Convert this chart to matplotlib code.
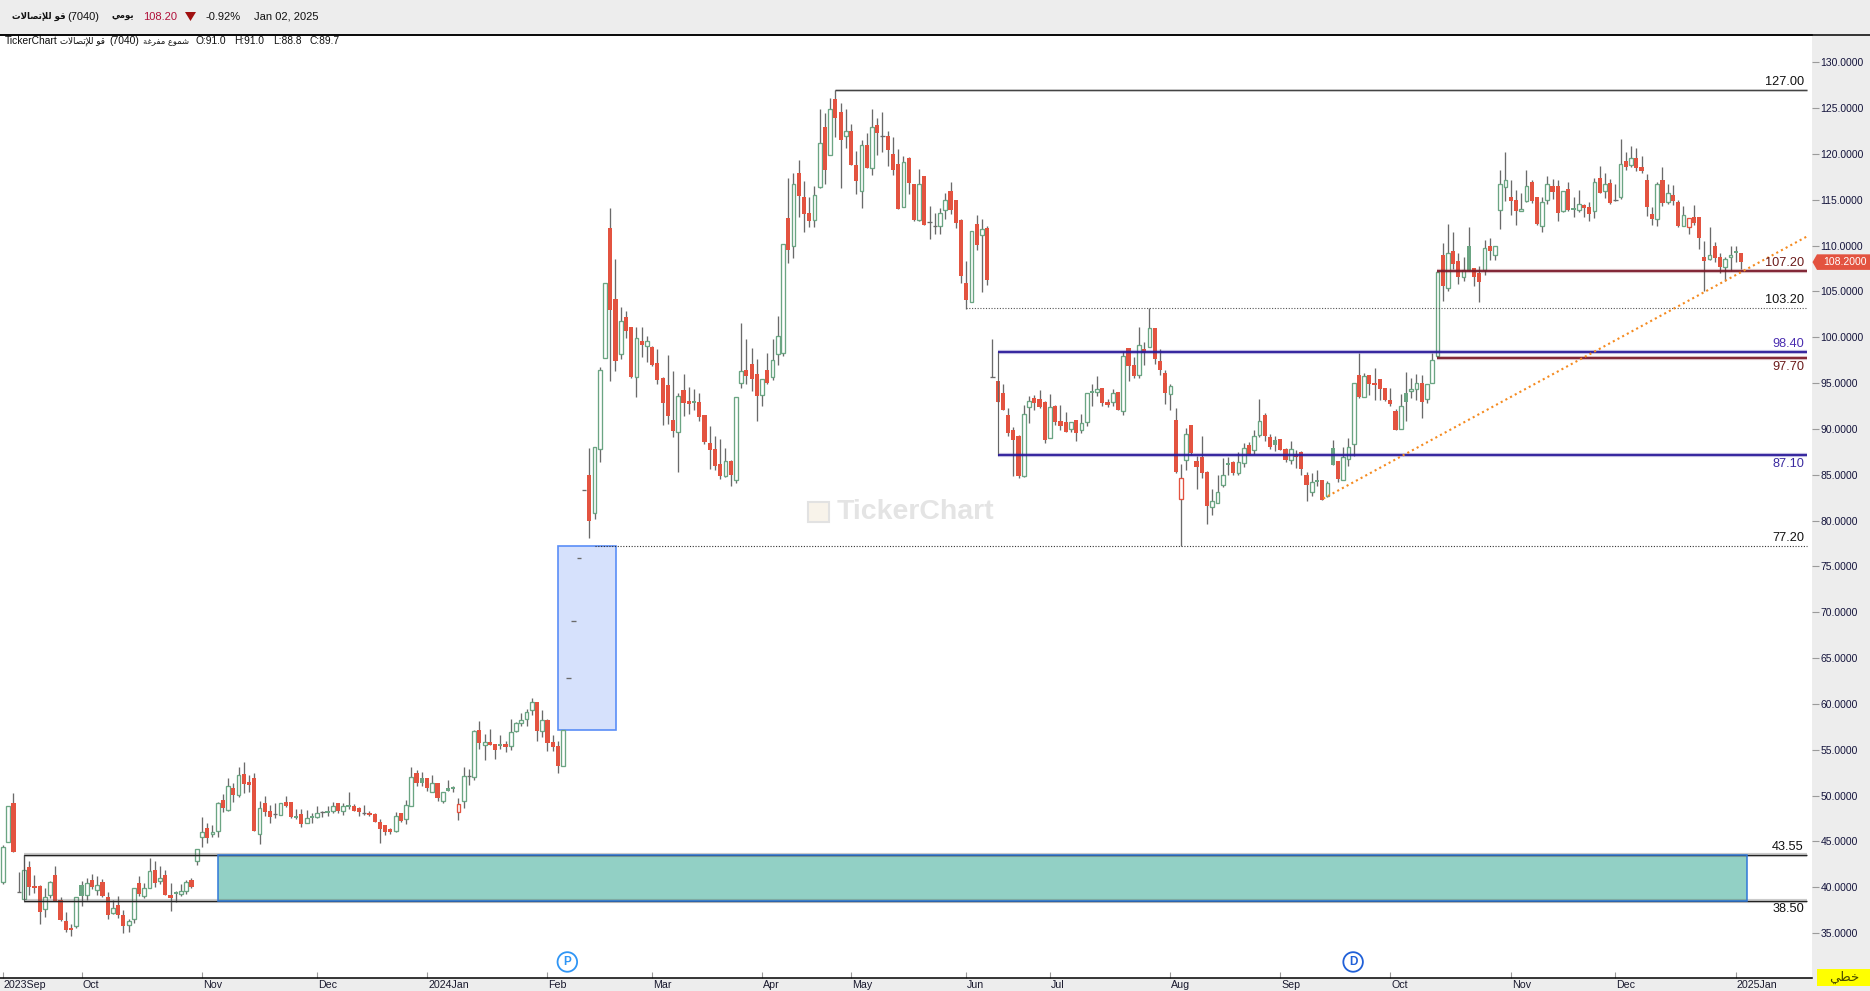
import matplotlib
matplotlib.use("Agg")
import matplotlib.pyplot as plt
from matplotlib.patches import Polygon, Rectangle
from matplotlib.lines import Line2D

plt.rcParams['font.family'] = ['Liberation Sans', 'DejaVu Sans']

W, H = 1870, 991

# each row: open, high, low, close
candles_sep_oct_2023 = [
 (40.6,44.6,40.4,44.35),(44.97,48.85,44.95,48.83),(49.19,50.25,43.88,43.88),(39.5,41.63,39.5,39.5),
 (38.75,43.5,38.75,41.85),(42.17,42.86,39.15,40.06),(40.14,41.34,39.4,39.95),(40.14,40.25,36.0,37.34),
 (37.66,39.9,36.8,38.9),(39.2,40.65,38.86,40.54),(41.3,42.3,38.5,38.5),(38.57,38.94,36.3,36.43),
 (36.3,37.3,35.1,35.34),(35.55,36.0,34.7,35.34),(35.8,38.9,35.6,38.9),(40.2,40.65,38.0,39.0),
 (39.2,41.0,38.6,40.43),(40.75,41.45,39.8,40.06),(39.74,41.2,39.15,40.2),(40.57,40.9,38.94,39.05),
 (38.94,39.5,36.54,36.97),(37.23,38.6,37.1,37.7),(38.03,39.05,36.65,36.97),(36.97,37.5,35.0,35.8),
 (35.92,36.5,35.1,36.28),(36.5,39.88,36.1,39.88),(40.43,41.23,39.05,39.26),(39.08,40.46,38.86,39.88),
 (39.88,43.15,39.88,41.74),(41.85,42.86,40.06,40.5),(40.72,42.3,40.35,40.97),(41.3,41.88,39.15,39.2),
 (39.15,40.46,37.45,38.86),(39.3,39.55,38.43,39.5),(39.3,40.35,39.05,39.63),(39.63,40.75,39.3,40.54),
 (40.75,40.97,39.95,40.06),(42.9,44.14,42.43,44.14),
]
candles_nov_dec_2023 = [
 (45.52,47.66,44.43,45.99),(46.43,47.0,44.83,45.41),(45.77,46.79,45.52,45.99),(46.17,49.26,45.52,49.15),
 (49.52,50.17,48.2,48.65),(48.46,51.92,48.35,51.0),(50.82,51.37,49.26,50.06),(50.1,53.12,49.88,52.2),
 (52.35,53.66,50.28,51.3),(51.48,52.24,50.39,51.15),(51.92,52.46,46.13,46.13),(45.84,49.41,44.72,48.6),
 (49.19,49.95,47.77,48.2),(48.32,48.97,47.0,47.66),(47.95,49.19,47.55,47.95),(47.92,49.15,47.92,49.15),
 (49.3,49.95,48.75,48.86),(49.3,49.3,47.55,47.66),(47.77,48.53,47.44,47.55),(47.99,48.53,46.57,46.9),
 (47.04,48.42,47.0,47.52),(47.77,48.1,47.0,47.55),(47.7,48.86,47.55,48.06),(48.2,48.32,47.66,48.2),
 (48.32,48.86,47.77,48.13),(48.35,49.3,48.1,48.86),(49.19,49.19,48.1,48.32),(48.35,49.19,47.88,48.86),
 (48.97,50.39,48.53,48.75),(48.86,49.08,48.32,48.32),(48.64,48.75,47.77,48.2),(48.06,48.97,47.88,48.06),
 (48.1,48.32,47.77,47.88),(47.99,48.06,47.12,47.12),(47.12,47.44,44.82,46.35),(46.79,46.79,45.7,46.02),
 (46.35,46.46,45.8,46.02),(46.17,48.2,46.02,47.77),(48.1,48.1,47.12,47.22),(47.48,49.52,46.9,48.97),
 (48.9,53.12,48.9,52.02),(52.46,52.79,51.04,51.37),(51.92,52.57,51.04,51.37),
]
candles_jan_feb_2024 = [
 (51.92,51.92,50.5,50.82),(50.42,52.24,50.39,51.33),(51.37,51.37,49.41,49.73),(49.45,50.36,49.19,50.36),
 (50.79,51.7,50.54,50.54),(50.9,51.05,50.43,50.76),(48.25,49.74,47.34,49.05),(49.45,53.08,48.65,52.1),
 (52.17,52.87,51.16,52.17),(52.07,57.16,51.7,57.01),(57.16,58.14,55.08,55.77),(55.48,56.72,53.88,55.81),
 (55.85,57.27,55.52,55.52),(55.63,55.63,53.99,54.97),(55.63,56.61,55.08,55.45),(55.63,55.96,54.76,55.3),
 (55.45,58.36,54.97,56.9),(57.08,58.03,56.94,57.88),(57.96,59.01,57.59,58.21),(58.32,59.45,57.59,59.08),
 (59.3,60.65,58.79,60.25),(60.21,60.21,55.96,57.05),(57.08,59.34,56.39,58.21),(58.25,58.36,54.87,55.74),
 (55.85,56.61,54.87,55.34),(55.41,55.96,52.47,53.23),(53.27,57.2,53.27,57.12),
 (62.79,62.79,62.79,62.79),(69.0,69.0,69.0,69.0),(75.88,75.88,75.88,75.88),(83.3,83.3,83.3,83.3),
 (84.98,87.96,78.11,79.96),(80.87,87.99,80.14,87.99),(87.85,96.8,86.4,96.43),(97.78,105.89,97.78,105.89),
 (111.92,114.1,95.27,103.0),(104.18,108.54,96.32,97.45),(98.21,103.3,97.63,101.74),(102.18,102.87,99.96,100.72),
 (101.12,101.12,95.6,95.67),(95.7,101.12,93.52,99.89),(99.56,101.12,97.89,99.16),(99.01,100.14,97.34,99.56),
 (98.94,99.05,96.9,96.98),(97.16,98.69,94.9,95.38),(95.56,95.63,90.43,92.87),(94.76,98.07,90.54,91.45),
 (90.94,96.32,89.16,89.81),(89.7,93.89,85.34,93.56),
]
candles_mar_may_2024 = [
 (94.25,95.96,91.41,92.87),(93.01,94.54,91.67,92.76),(93.01,94.36,92.07,92.87),(92.9,93.92,90.9,91.34),
 (91.52,91.52,88.36,88.61),(88.43,90.32,85.67,87.74),(87.81,89.23,85.56,85.99),(86.18,88.9,84.58,84.9),
 (84.9,87.92,84.72,86.47),(86.5,86.61,83.81,85.01),(84.4,93.52,84.07,93.52),(94.98,101.52,94.5,96.29),
 (96.4,99.81,94.94,95.81),(97.05,98.83,94.18,95.49),(95.96,97.6,90.9,93.63),(93.67,95.41,92.54,95.41),
 (96.4,98.29,94.94,95.01),(95.7,99.81,95.34,97.49),(98.21,102.32,96.98,100.11),(98.32,110.14,98.0,110.14),
 (112.98,117.34,108.14,109.56),(109.92,117.9,108.69,116.69),(117.92,119.34,113.16,115.45),(115.3,117.05,111.52,113.49),
 (113.56,115.27,112.07,112.69),(112.83,116.5,112.07,115.49),(116.36,124.9,116.32,121.16),(122.94,124.47,116.76,118.29),
 (119.85,126.1,119.85,124.87),(125.99,126.98,121.89,123.96),(124.58,125.56,116.32,121.56),(121.92,124.9,120.65,122.51),
 (122.51,123.27,118.83,118.83),(118.8,120.32,115.63,117.09),(115.92,121.52,114.14,120.94),(120.98,122.29,118.47,118.47),
 (118.5,124.9,117.7,122.9),(123.16,123.92,119.89,122.29),(121.92,124.58,120.25,121.92),(121.96,122.51,118.69,120.43),
 (120.0,121.85,117.7,118.25),(118.9,120.54,114.0,114.0),(114.25,119.78,114.25,119.09),(119.56,119.63,115.63,116.85),
 (116.72,116.72,112.7,112.8),(112.8,118.36,112.69,116.69),(117.6,117.6,112.25,112.25),(112.54,114.32,110.72,112.54),
 (112.14,113.56,111.27,112.14),(112.1,114.1,111.27,113.52),(113.92,115.74,112.9,114.94),(115.96,116.94,113.45,113.89),
 (114.98,114.98,111.92,112.47),(112.8,112.9,105.92,106.69),(105.92,108.32,103.09,104.07),(103.89,111.56,103.89,111.56),
 (112.36,113.3,109.52,110.07),(111.2,112.9,104.94,111.78),(111.92,112.14,105.7,106.25),
]
candles_jun_aug_2024 = [
 (95.7,99.81,95.7,95.7),(95.23,95.23,92.98,92.98),(93.92,94.9,92.1,92.1),(91.52,92.29,89.23,89.56),
 (89.89,90.21,84.87,88.83),(89.23,89.34,84.69,84.87),(84.9,92.58,84.76,91.6),(92.36,93.6,90.65,93.01),
 (93.38,93.7,92.07,92.87),(93.27,94.25,92.29,92.4),(92.94,93.05,88.47,88.83),(89.05,93.81,89.05,92.36),
 (92.51,92.61,90.43,90.76),(90.87,92.61,89.89,90.32),(90.76,91.85,89.67,89.67),(90.03,90.72,89.67,90.72),
 (90.98,90.98,88.69,89.56),(89.92,91.63,89.56,90.61),(90.8,93.96,90.32,93.96),(94.14,94.9,92.5,93.92),
 (94.07,95.78,93.6,94.32),(94.47,94.47,92.5,92.83),(92.94,93.27,92.4,92.61),(92.9,94.36,92.54,93.89),
 (94.03,94.03,92.07,92.07),(92.0,98.5,91.52,97.92),(98.83,98.83,95.23,96.87),(96.98,97.85,95.56,95.78),
 (95.92,101.12,95.56,99.12),(98.72,99.49,96.98,98.29),(98.98,103.2,98.98,100.98),(101.01,101.01,97.09,97.63),
 (97.41,98.72,95.89,96.43),(96.1,96.43,92.72,93.92),(93.85,94.9,92.07,94.65),(90.98,92.29,85.2,85.3),
 (82.4,86.18,77.2,84.61),(86.65,90.1,85.52,89.41),(90.43,90.43,87.16,87.38),(86.5,87.05,83.45,85.85),
 (86.94,89.23,84.65,85.2),(85.3,85.41,79.63,81.6),(81.52,83.45,80.61,82.1),(81.96,84.98,81.96,83.09),
 (83.92,86.83,83.67,84.94),(86.29,86.94,84.98,86.1),(86.4,86.5,84.98,85.2),(85.23,87.49,84.98,86.4),
 (86.32,88.47,85.85,87.92),(88.25,88.6,87.27,87.27),(87.7,89.89,87.27,89.23),(89.34,93.27,89.12,90.83),
 (91.52,91.74,88.69,89.23),(89.12,89.45,87.8,88.03),(88.8,89.23,87.6,88.25),(88.9,88.9,87.7,87.7),
]
candles_sep_oct_2024 = [
 (87.81,87.92,86.4,86.61),(86.65,88.69,86.18,87.78),(87.27,87.7,85.74,86.9),(87.49,87.6,84.98,85.63),
 (84.98,85.3,82.14,83.89),(83.16,85.16,82.69,84.18),(84.43,85.52,83.78,84.21),(84.43,84.43,82.25,82.25),
 (82.72,84.32,82.61,84.07),(87.92,88.8,86.07,86.07),(86.47,86.47,84.2,84.54),(84.47,88.03,84.47,86.94),
 (86.76,89.0,85.96,87.98),(88.4,94.98,87.05,94.98),(95.89,98.25,93.38,93.49),(93.52,96.1,93.52,95.74),
 (95.89,95.89,93.7,94.9),(95.0,96.65,93.16,94.8),(95.45,95.45,93.16,94.36),(94.47,94.47,93.05,93.16),
 (93.16,94.47,92.5,92.72),(91.96,92.18,89.89,89.89),(90.03,93.81,90.03,92.47),(93.92,96.2,90.87,92.94),
 (94.1,95.56,93.38,94.32),(94.4,95.98,93.16,95.0),(95.0,95.89,91.2,92.94),(93.3,94.87,92.83,94.87),
 (95.05,98.25,95.05,97.49),(98.01,107.2,97.9,107.14),(109.03,110.3,103.94,105.58),(105.4,112.38,105.03,109.21),
 (109.43,111.54,107.5,107.94),(108.34,109.21,105.8,106.56),(106.6,108.78,106.12,107.36),(110.0,112.0,107.25,107.25),
 (107.61,107.61,105.58,106.56),(107.03,107.83,103.9,106.01),(107.3,110.56,106.78,109.76),(110.0,110.78,108.41,109.36),
 (108.96,109.98,108.41,109.98),
]
candles_nov_2024_jan_2025 = [
 (113.87,118.2,111.76,116.74),(116.38,120.16,114.92,117.18),(115.32,117.2,113.29,114.85),(115.03,116.12,112.3,113.76),
 (113.8,115.76,113.8,114.01),(114.85,118.2,114.74,116.52),(116.99,117.2,114.7,114.92),(115.32,115.32,112.2,112.41),
 (112.12,115.32,111.54,114.78),(114.99,117.65,114.49,116.74),(116.52,117.32,115.14,115.9),(116.52,117.2,112.74,113.61),
 (113.8,115.98,113.72,115.98),(116.2,116.96,113.83,113.94),(114.12,115.25,113.07,113.87),(113.94,116.12,113.72,114.56),
 (114.38,114.49,113.07,114.05),(114.16,114.81,112.74,113.5),(113.76,117.43,112.96,116.96),(117.43,118.74,115.69,115.69),
 (115.94,117.94,115.21,116.74),(116.78,117.32,114.49,114.7),(115.03,116.67,114.92,115.03),(115.25,121.58,115.1,118.92),
 (119.18,120.16,118.3,118.63),(118.78,120.92,118.63,119.58),(119.58,120.6,118.09,118.52),(118.63,119.83,117.87,118.09),
 (117.21,117.76,113.18,114.16),(113.4,114.16,112.3,112.85),(112.89,116.99,112.09,116.74),(117.21,118.63,114.27,114.7),
 (114.74,116.67,114.49,115.76),(115.54,116.56,114.38,114.92),(114.81,115.03,111.98,112.09),(112.12,114.27,112.09,113.36),
 (112.05,113.03,111.32,113.03),(113.07,114.38,112.3,112.52),(113.07,113.07,109.58,110.78),(108.81,110.45,105.0,108.27),
 (108.49,112.0,108.38,108.99),(110.0,110.34,108.16,108.7),(108.81,109.14,107.03,107.72),(107.72,108.81,106.16,108.56),
 (108.74,110.0,107.18,108.99),(109.43,110.0,108.16,109.18),(109.21,109.21,107.5,108.16),
]
filled_green_days = [15,33,56,59,62,66,80,85,86,95,132,208,234,243,251,254,268,280,300,331]
hollow_red_days = [87,225,322]

tick_days = [0,15,38,60,81,104,124,145,162,184,200,223,244,265,288,308,331]
tick_labels = ['2023Sep','Oct','Nov','Dec','2024Jan','Feb','Mar','Apr','May','Jun','Jul','Aug','Sep','Oct','Nov','Dec','2025Jan']
price_ticks = list(range(35,131,5))

level_127, level_103, level_77 = 127.0, 103.2, 77.2
level_984, level_871 = 98.4, 87.1
level_1072, level_977 = 107.2, 97.7
zone_top, zone_bottom = 43.55, 38.5
box_top, box_bottom = 77.2, 57.15
trend_start, trend_end = 82.4, 111.0
last_price = 108.2

candles = (candles_sep_oct_2023 + candles_nov_dec_2023 + candles_jan_feb_2024 + candles_mar_may_2024
           + candles_jun_aug_2024 + candles_sep_oct_2024 + candles_nov_2024_jan_2025)

AR = {'ق':(0xFED5,1),'و':(0xFEED,0),'ل':(0xFEDD,1),'إ':(0xFE87,0),'ت':(0xFE95,1),'ص':(0xFEB9,1),'ا':(0xFE8D,0),
      'ي':(0xFEF1,1),'م':(0xFEE1,1),'ش':(0xFEB5,1),'ع':(0xFEC9,1),'ف':(0xFED1,1),'ر':(0xFEAD,0),'غ':(0xFECD,1),
      'ة':(0xFE93,0),'خ':(0xFEA5,1),'ط':(0xFEC1,1)}
def ar(s):
    out, i, prev = [], 0, False
    while i < len(s):
        ch = s[i]
        if ch not in AR:
            out.append(ch); prev = False; i += 1; continue
        if ch == 'ل' and i+1 < len(s) and s[i+1] in 'إا':
            base = 0xFEF9 if s[i+1] == 'إ' else 0xFEFB
            out.append(chr(base + (1 if prev else 0))); prev = False; i += 2; continue
        code, dual = AR[ch]
        nxt = i+1 < len(s) and s[i+1] in AR
        if dual and nxt:
            out.append(chr(code + (3 if prev else 2))); prev = True
        else:
            out.append(chr(code + (1 if prev else 0))); prev = False
        i += 1
    return ''.join(reversed(out))

PANEL = '#EDEDED'
RED = '#E35340'; GREEN = '#6BA583'; WICK = '#6A6A6A'
fig = plt.figure(figsize=(W/100, H/100), dpi=100, facecolor=PANEL)
ax = fig.add_axes([0, 1-978/H, 1812/W, (978-35)/H], facecolor='white')
ax.set_xlim(-3/5.235, (1812-3)/5.235)
ax.set_ylim(30.09, 132.98)
for s in ['left','right']:
    ax.spines[s].set_visible(False)
for s in ['top','bottom']:
    ax.spines[s].set_color('black'); ax.spines[s].set_linewidth(1.1)
fig.add_artist(Line2D([0, 1], [1-35/H, 1-35/H], transform=fig.transFigure, color='black', lw=1.1))

# x axis
ax.set_xticks(tick_days)
ax.set_xticklabels([])
ax.tick_params(axis='x', direction='in', length=4.5, width=0.8, color='#9a9a9a')
for d, lab_txt in zip(tick_days, tick_labels):
    ax.annotate(lab_txt, (d, 0), xycoords=('data','axes fraction'), xytext=(1, -7), textcoords='offset pixels',
                ha='left', va='center', fontsize=7.7, color='#1a1a2e', annotation_clip=False)
# y axis
ax.yaxis.tick_right()
ax.set_yticks(price_ticks)
ax.set_yticklabels(['%.4f' % p for p in price_ticks], fontsize=7.5, color='#14143c')
ax.tick_params(axis='y', direction='out', length=5, width=0.8, color='#9a9a9a', pad=1.2)

# zones underneath candles
XR = 344.6
ax.add_patch(Rectangle((106.0, box_bottom), 11.1, box_top-box_bottom, fc='#D6E1FC', ec='#5A8EF7', lw=1.2, zorder=1))
ax.add_patch(Rectangle((41.0, zone_bottom), 292.1, zone_top-zone_bottom, fc='#92D0C5', ec='none', zorder=1))

for i, (o, h, l, c) in enumerate(candles):
    ax.vlines(i, l, h, color=WICK, lw=0.95, zorder=2)
    if o == c:
        ax.hlines(c, i-0.42, i+0.42, color=WICK, lw=0.95, zorder=3)
    elif i in filled_green_days:
        ax.add_patch(Rectangle((i-0.4, min(o,c)), 0.8, abs(o-c), fc=GREEN, ec='none', zorder=3))
    elif i in hollow_red_days:
        ax.add_patch(Rectangle((i-0.36, min(o,c)), 0.72, abs(o-c), fc='white', ec=RED, lw=0.95, zorder=3))
    elif c > o:
        ax.add_patch(Rectangle((i-0.36, o), 0.72, c-o, fc='white', ec=GREEN, lw=0.95, zorder=3))
    else:
        ax.add_patch(Rectangle((i-0.4, c), 0.8, o-c, fc=RED, ec='none', zorder=3))

def level(y, x0, color, lw=1.0, halo=None, hw=3.0, ls='-'):
    if halo:
        ax.plot([x0, XR], [y, y], color=halo, lw=hw, alpha=0.3, zorder=4, solid_capstyle='butt')
    ax.plot([x0, XR], [y, y], color=color, lw=lw, ls=ls, zorder=5, solid_capstyle='butt')

level(level_127, 159, '#444444', lw=0.9, halo='#555555', hw=1.8)
level(level_103, 184, '#555555', lw=0.8, ls=(0,(1,1.5)))
level(level_77, 113, '#333333', lw=0.8, ls=(0,(1,1.5)))
level(level_984, 190, '#2A1A9A', lw=1.3, halo='#2A1A9A')
level(level_871, 190, '#2A1A9A', lw=1.3, halo='#2A1A9A')
ax.plot([190,190], [level_871, level_984], color='#666666', lw=0.85, zorder=4)
level(level_1072, 274, '#7B1A2A', lw=1.3, halo='#7B1A2A')
level(level_977, 274, '#7B1A2A', lw=1.3, halo='#7B1A2A')
level(zone_top, 4, '#222222', lw=0.9, halo='#555555')
level(zone_bottom, 4, '#222222', lw=0.9, halo='#555555')
ax.plot([4,4], [zone_bottom, zone_top], color='#555555', lw=0.8, zorder=4)
ax.add_patch(Rectangle((41.0, zone_bottom), 292.1, zone_top-zone_bottom, fc='none', ec='#2F78D8', lw=1.1, zorder=6))
ax.plot([252.2, XR], [trend_start, trend_end], color='#F58A1F', lw=1.5, ls=(0,(1,1.55)), zorder=6)

def lab(y, txt, col, dy):
    ax.annotate(txt, (XR, y), xytext=(-3, dy), textcoords='offset pixels', ha='right', va='center',
                fontsize=9.2, color=col, zorder=7)
lab(level_127, '127.00', '#111111', 8)
lab(level_1072, '107.20', '#6B1A1A', 8)
lab(level_103, '103.20', '#111111', 8)
lab(level_984, '98.40', '#4A2DB0', 8)
lab(level_977, '97.70', '#6B1A1A', -9)
lab(level_871, '87.10', '#3A2AA0', -9)
lab(level_77, '77.20', '#111111', 8)
lab(zone_top, '43.55', '#111111', 8)
lab(zone_bottom, '38.50', '#111111', -8)

# P and D event markers
for d, t, col in [(107.8, 'P', '#2F95F5'), (257.9, 'D', '#2060D8')]:
    ax.text(d, 31.84, t, ha='center', va='center', fontsize=8.5, fontweight='bold', color=col, zorder=8,
            bbox=dict(boxstyle='circle,pad=0.32', fc='white', ec=col, lw=1.3))

# watermark
ax.text(159.3, 80.9, 'TickerChart', ha='left', va='center', fontsize=20.5, fontweight='bold', color='#E4E4E4', zorder=0.5)
ax.add_patch(Rectangle((153.8, 79.85), 4, 2.2, fc='#F8F3EA', ec='#E2E2E2', lw=1.5, zorder=0.5))

# last price tag
tf = ax.get_yaxis_transform()
tag_x0, tag_x1, tag_tip = 1 + 5/1812, 1 + 58/1812, 1 + 0.5/1812
ax.add_patch(Polygon([(tag_tip, last_price), (tag_x0, last_price+0.85), (tag_x1, last_price+0.85),
                      (tag_x1, last_price-0.85), (tag_x0, last_price-0.85)], closed=True,
                     transform=tf, fc=RED, ec='none', clip_on=False, zorder=9))
ax.text(1 + 11/1812, last_price, '%.4f' % last_price, transform=tf, ha='left', va='center', fontsize=7.5, color='white', zorder=10)

def T(x, y, s, **kw):
    kw.setdefault('va', 'center'); kw.setdefault('ha', 'left'); kw.setdefault('color', '#111111')
    fig.text(x/W, 1-y/H, s, **kw)

name = ar('قو للإتصالات')
T(12, 16.5, name, fontsize=6.2, fontweight='bold', family='DejaVu Sans')
T(67, 16.5, '(7040)', fontsize=8)
T(111, 16.5, ar('يومي'), fontsize=6.2, fontweight='bold', family='DejaVu Sans')
T(143, 16.5, '108.20', fontsize=8, color='#B0103A')
fig.add_artist(Polygon([(185/W, 1-12/H), (196/W, 1-12/H), (190.5/W, 1-21/H)], closed=True,
                       transform=fig.transFigure, fc='#A01010', ec='none'))
T(206, 16.5, '-0.92%', fontsize=8)
T(254, 16.5, 'Jan 02, 2025', fontsize=8)
T(5, 41.5, 'TickerChart', fontsize=7.4)
T(60, 41.5, name, fontsize=6.3, family='DejaVu Sans')
T(109, 41.5, '(7040)', fontsize=7.4)
T(143, 41.5, ar('شموع مفرغة'), fontsize=6.0, family='DejaVu Sans')
for x, s in [(196,'O:91.0'),(234,'H:91.0'),(273,'L:88.8'),(310,'C:89.7')]:
    T(x, 41.5, s, fontsize=7.4)

fig.add_artist(Rectangle((1817/W, 1-986/H), 53/W, 17.5/H, transform=fig.transFigure, fc='#FFFF00', ec='none'))
T(1844, 977, ar('خطي'), fontsize=9.5, ha='center', color='#4a4a00', family='DejaVu Sans')

fig.savefig('out.png', dpi=100, facecolor=fig.get_facecolor())
